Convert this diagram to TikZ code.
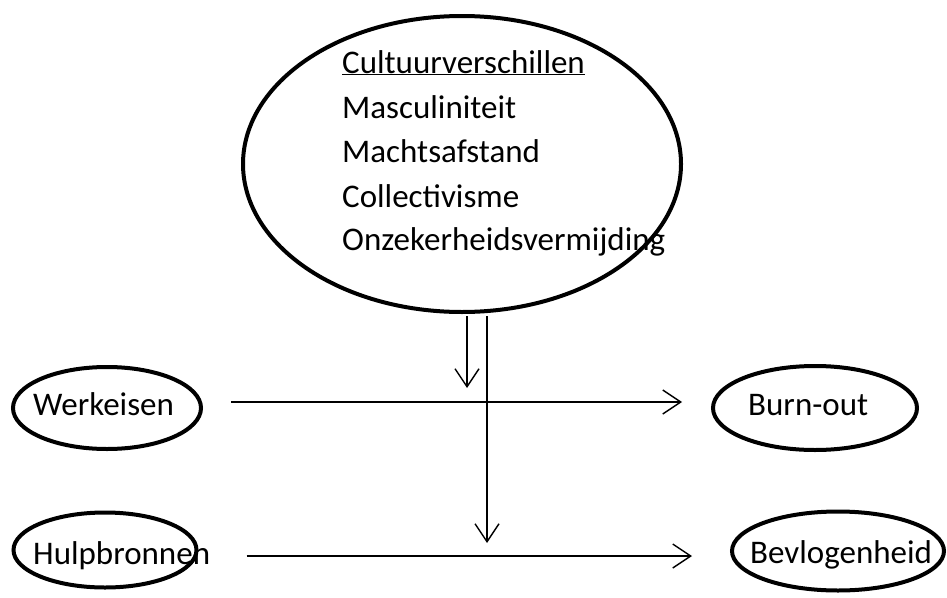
\documentclass[tikz,border=0pt]{standalone}
\usepackage{fontspec}
\setmainfont{Carlito}
\usetikzlibrary{shapes.geometric,arrows.meta}
\begin{document}
\begin{tikzpicture}[x=1pt,y=-1pt,
  oval/.style={draw,ellipse,line width=4pt,inner sep=0pt},
  lbl/.style={anchor=base west,inner sep=0pt,font=\fontsize{33}{38}\selectfont},
  arr/.style={line width=1.4pt,-{Straight Barb[length=18pt,width=24pt,line width=1.4pt]}}]
\useasboundingbox (0,0) rectangle (947,597);
\node[oval,minimum width=438pt,minimum height=296pt] (c) at (462,164) {};
\node[lbl] (t1) at (342,73) {\underline{Cultuurverschillen}};
\node[lbl] (t2) at (342,118) {Masculiniteit};
\node[lbl] (t3) at (342,162) {Machtsafstand};
\node[lbl] (t4) at (342,207) {Collectivisme};
\node[lbl] (t5) at (342,250) {Onzekerheidsvermijding};
\node[oval,minimum width=188pt,minimum height=82pt] (w) at (107,408) {};
\node[lbl] (wt) at (33,415) {Werkeisen};
\node[oval,minimum width=183pt,minimum height=75pt] (h) at (105,550) {};
\node[lbl] (ht) at (33,564) {Hulpbronnen};
\node[oval,minimum width=204pt,minimum height=84pt] (b) at (815,408) {};
\node[lbl] (bt) at (748,415) {Burn-out};
\node[oval,minimum width=212pt,minimum height=79pt] (v) at (838,551) {};
\node[lbl] (vt) at (750,563) {Bevlogenheid};
\coordinate (e1) at (467,388);
\coordinate (e2) at (487,543);
\coordinate (s1) at (467,316);
\coordinate (s2) at (487,316);
\draw[arr] (s1) -- (e1);
\draw[arr] (s2) -- (e2);
\draw[arr,shorten <=28pt,shorten >=29pt] (w.east |- 0,402) -- (b.west |- 0,402);
\draw[arr,shorten <=48pt,shorten >=38pt] (h.east |- 0,556) -- (v.west |- 0,556);
\end{tikzpicture}
\end{document}
